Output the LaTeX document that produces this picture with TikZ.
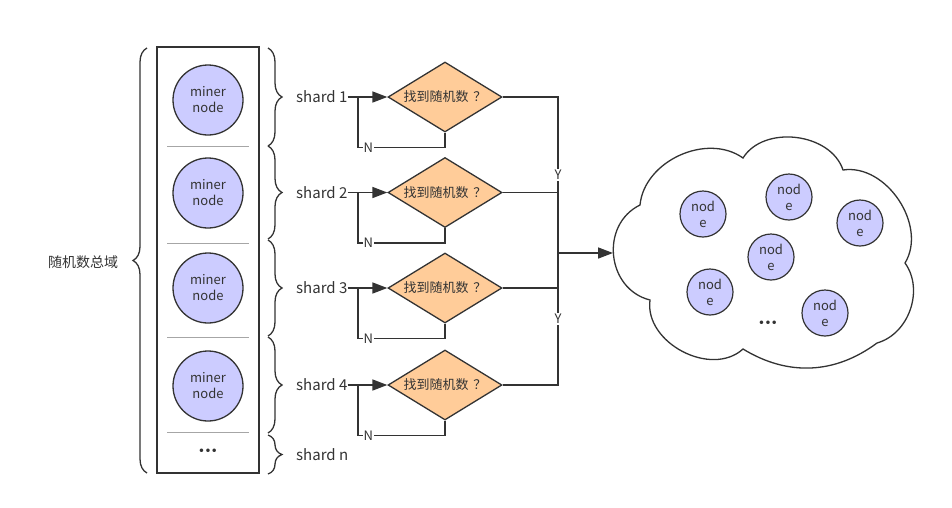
\documentclass[tikz,border=0pt]{standalone}
\usepackage{fontspec}
\setmainfont{Noto Sans CJK SC}
\newfontfamily\dotfont{DejaVu Sans}
\usetikzlibrary{shapes.geometric,arrows.meta,decorations.pathreplacing}

\definecolor{linegray}{HTML}{333333}
\definecolor{minerfill}{HTML}{CCCCFF}
\definecolor{askfill}{HTML}{FFCC99}

\tikzset{
  miner/.style={circle, draw=linegray, line width=1.3pt, fill=minerfill,
    minimum size=70pt, inner sep=0pt, align=center, font=\fontsize{13}{16}\selectfont},
  peer/.style={circle, draw=linegray, line width=1.2pt, fill=minerfill,
    minimum size=46pt, inner sep=0pt, align=center, font=\fontsize{13}{16}\selectfont},
  ask/.style={diamond, aspect=1.6, draw=linegray, line width=1.3pt, fill=askfill,
    minimum width=114pt, minimum height=70pt, inner sep=0pt, font=\fontsize{13}{16}\selectfont},
  shardlbl/.style={anchor=west, inner sep=0pt, font=\fontsize{15}{18}\selectfont},
  flow/.style={draw=linegray, line width=1.6pt},
  yn/.style={fill=white, inner sep=1pt, font=\fontsize{13}{16}\selectfont},
  curly/.style={draw=linegray, line width=1.3pt, decorate, decoration={brace, amplitude=14pt}},
  more/.style={font=\dotfont\bfseries\fontsize{10}{12}\selectfont},
}

\begin{document}
\begin{tikzpicture}[x=1pt, y=-1pt, color=linegray]
    \useasboundingbox (0,0) rectangle (952,507);

    % 随机数总域
    \node[font=\fontsize{14}{17}\selectfont] (domain) at (83,262) {随机数总域};
    \draw[curly] (147,473) -- (147,48);

    % 矿工节点
    \node[draw=linegray, line width=1.3pt, minimum width=102pt, minimum height=426pt,
      inner sep=0pt] (pool) at (208,260) {};
    \foreach \y/\name in {100/m1, 193/m2, 288/m3, 386/m4}
        \node[miner] (\name) at (208,\y) {miner\\node};
    \foreach \y in {146, 243, 337, 432}
        \draw[gray!70, line width=1pt] (167,\y) -- (249,\y);
    \node[more] (mdots) at (208,452) {•••};

    % 分片
    \foreach \a/\b in {48/146, 146/239, 240/336, 337/433, 435/474}
        \draw[curly] (268,\a) -- (268,\b);
    \node[shardlbl] (sn) at (296,454.5) {shard n};

    \foreach \i/\y in {1/97, 2/192.5, 3/288, 4/385}{
        \node[shardlbl] (s\i) at (296,\y) {shard \i};
        \node[ask] (d\i) at (445,\y) {找到随机数\hspace{5pt}？};
        \coordinate (j\i) at (358,\y);
        \draw[flow, -{Triangle[length=15pt, width=11pt]}] (s\i.east) -- (d\i.west);
        \draw[flow] (d\i.south) -- ++(0,15) -| node[yn, pos=0.44] {N} (j\i);
    }

    % Y 汇合
    \coordinate (bus) at (558,253);
    \coordinate (cloudL) at (613,253);
    \draw[flow] (d1.east) -| node[yn, pos=0.75] {Y} (bus);
    \draw[flow] (d4.east) -| node[yn, pos=0.75] {Y} (bus);
    \draw[flow] (d2.east) -- (d2.east -| bus);
    \draw[flow] (d3.east) -- (d3.east -| bus);
    \draw[flow, -{Triangle[length=15pt, width=11pt]}] (bus) -- (cloudL);

    % 网络云
    \draw[draw=linegray, line width=1.3pt, fill=white]
        (640,205) to[bend left=60] (743,158)
        to[bend left=65] (843,170)
        to[bend left=65] (905,263)
        to[bend left=55] (877,343)
        to[bend left=34] (743,349)
        to[bend left=70, looseness=1.05] (650,300)
        to[bend left=70, looseness=1.2] (640,205) -- cycle;
    \foreach \x/\y/\name in {703/214/p1, 789/197/p2, 860/223/p3, 771/257/p4, 710/292/p5, 825/313/p6}
        \node[peer] (\name) at (\x,\y) {nod\\e};
    \node[more] (pdots) at (768,324) {•••};
\end{tikzpicture}
\end{document}
